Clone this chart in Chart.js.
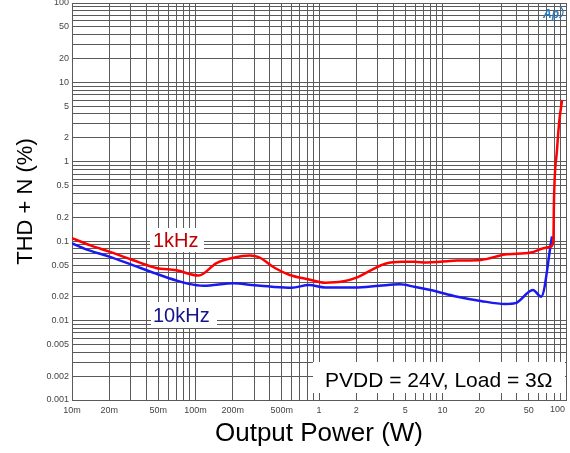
<!DOCTYPE html>
<html><head><meta charset="utf-8">
<script src="https://cdn.jsdelivr.net/npm/chart.js@4/dist/chart.umd.min.js"></script>
<style>html,body{margin:0;padding:0;background:#fff;}#wrap{width:570px;height:453px;position:relative;}</style>
</head><body><div id="wrap"><canvas id="c" width="570" height="453"></canvas></div>
<script>
// ---- tick labels ----
const xTickValues = [0.01, 0.02, 0.05, 0.1, 0.2, 0.5, 1, 2, 5, 10, 20, 50, 100];
const xTickLabels = ['10m', '20m', '50m', '100m', '200m', '500m', '1', '2', '5', '10', '20', '50', '100'];
const yTickValues = [0.001, 0.002, 0.005, 0.01, 0.02, 0.05, 0.1, 0.2, 0.5, 1, 2, 5, 10, 20, 50, 100];
const yTickLabels = ['0.001', '0.002', '0.005', '0.01', '0.02', '0.05', '0.1', '0.2', '0.5', '1', '2', '5', '10', '20', '50', '100'];

// ---- series: 1 kHz ----
const power1k = [0.01, 0.0143, 0.02, 0.031, 0.048, 0.07, 0.106, 0.148, 0.204, 0.275, 0.325, 0.44, 0.58, 0.83, 1.12, 1.54, 2.04, 2.7, 3.44, 4.7, 5.9, 7.5, 9.6, 13.2, 20.4, 32, 52, 67, 76, 79, 80, 84.5, 88.5, 93];
const thd1k   = [0.109, 0.088, 0.074, 0.058, 0.046, 0.043, 0.037, 0.053, 0.062, 0.066, 0.063, 0.046, 0.0375, 0.033, 0.030, 0.031, 0.035, 0.044, 0.052, 0.055, 0.055, 0.054, 0.055, 0.057, 0.058, 0.068, 0.072, 0.082, 0.086, 0.1, 0.35, 1.4, 3.4, 6];

// ---- series: 10 kHz ----
const power10k = [0.01, 0.013, 0.02, 0.031, 0.048, 0.07, 0.088, 0.116, 0.204, 0.285, 0.415, 0.6, 0.83, 1.12, 1.96, 3.07, 4.5, 5.9, 8.0, 13.2, 20.4, 32, 39, 54, 63, 77];
const thd10k   = [0.094, 0.079, 0.064, 0.050, 0.039, 0.032, 0.029, 0.0275, 0.0295, 0.028, 0.0267, 0.026, 0.028, 0.0262, 0.0262, 0.0275, 0.0286, 0.0267, 0.0243, 0.020, 0.0177, 0.0162, 0.0166, 0.0243, 0.020, 0.115];

const seriesNames = ['1kHz', '10kHz'];
const noteText = 'PVDD = 24V, Load = 3\u03A9';
const xTitle = 'Output Power (W)';
const yTitle = 'THD + N (%)';

function gridValues(min, max) {
  const out = [];
  for (let e = Math.round(Math.log10(min)); e < Math.round(Math.log10(max)); e++) {
    for (let m = 1; m < 10; m++) out.push(parseFloat((m * Math.pow(10, e)).toPrecision(6)));
  }
  out.push(max);
  return out;
}
function labelFor(vals, labs, v) {
  for (let i = 0; i < vals.length; i++) if (Math.abs(vals[i] - v) / vals[i] < 1e-6) return labs[i];
  return '';
}
function pts(xs, ys) { return xs.map((x, i) => ({x: x, y: ys[i]})); }

const FONT = '"Liberation Sans", Arial, sans-serif';
const GRID = '#5a5a5a';

const annot = {
  id: 'annot',
  beforeDatasetsDraw(chart) {
    const ctx = chart.ctx;
    ctx.save();
    function box(x, y, w, h) { ctx.fillStyle = '#fff'; ctx.fillRect(x, y, w, h); }
    box(150, 228, 54, 24);
    box(151, 302, 66, 26);
    box(313, 362, 252, 31);
    ctx.textBaseline = 'alphabetic';
    ctx.textAlign = 'left';
    ctx.font = '20px ' + FONT;
    ctx.fillStyle = '#c00000';
    ctx.fillText(seriesNames[0], 153, 247);
    ctx.fillStyle = '#14148c';
    ctx.fillText(seriesNames[1], 153, 322);
    ctx.font = '21px ' + FONT;
    ctx.fillStyle = '#000';
    ctx.fillText(noteText, 325, 387);
    ctx.restore();
  },
  afterDraw(chart) {
    const ctx = chart.ctx;
    const xs = chart.scales.x;
    ctx.save();
    // last x tick label, right-aligned at the plot edge
    ctx.font = '9px ' + FONT;
    ctx.fillStyle = '#444';
    ctx.textAlign = 'right';
    ctx.textBaseline = 'top';
    ctx.fillText(xTickLabels[xTickLabels.length - 1], xs.getPixelForValue(xTickValues[xTickValues.length - 1]) - 1, chart.chartArea.bottom + 5);
    // logo
    ctx.font = 'italic bold 12px ' + FONT;
    ctx.fillStyle = '#2b7bbf';
    ctx.textAlign = 'left';
    ctx.textBaseline = 'alphabetic';
    ctx.fillText('Ap', 543, 18);
    ctx.strokeStyle = '#2b7bbf';
    ctx.lineWidth = 1.2;
    ctx.beginPath();
    ctx.arc(557, 12, 6, -1.2, 1.2);
    ctx.stroke();
    ctx.restore();
  }
};

new Chart(document.getElementById('c'), {
  type: 'line',
  data: {
    datasets: [
      {label: seriesNames[0], data: pts(power1k, thd1k), borderColor: '#ff0000', borderWidth: 2.5, pointRadius: 0, cubicInterpolationMode: 'monotone', fill: false},
      {label: seriesNames[1], data: pts(power10k, thd10k), borderColor: '#1a1aee', borderWidth: 2.5, pointRadius: 0, cubicInterpolationMode: 'monotone', fill: false}
    ]
  },
  options: {
    responsive: false,
    animation: false,
    devicePixelRatio: 1,
    layout: {padding: {left: 0, right: 4, top: 3, bottom: 0}},
    plugins: {legend: {display: false}, tooltip: {enabled: false}},
    scales: {
      x: {
        type: 'logarithmic', min: 0.01, max: 100,
        afterBuildTicks(s) { s.ticks = gridValues(0.01, 100).map(v => ({value: v})); },
        afterFit(s) { s.height = 53; s.paddingLeft = 0; s.paddingRight = 0; },
        grid: {color: GRID, lineWidth: 1, drawTicks: false},
        border: {color: GRID},
        ticks: {
          autoSkip: false, maxRotation: 0, minRotation: 0, padding: 5,
          color: '#444', font: {family: FONT, size: 9},
          callback(v) { return v >= 100 ? '' : labelFor(xTickValues, xTickLabels, v); }
        },
        title: {display: true, text: xTitle, color: '#000', font: {family: FONT, size: 26}, padding: {top: 0, bottom: 4}}
      },
      y: {
        type: 'logarithmic', min: 0.001, max: 100,
        afterBuildTicks(s) { s.ticks = gridValues(0.001, 100).map(v => ({value: v})); },
        afterFit(s) { s.width = 72; s.paddingTop = 0; s.paddingBottom = 0; },
        grid: {color: GRID, lineWidth: 1, drawTicks: false},
        border: {color: GRID},
        ticks: {
          autoSkip: false, padding: 3,
          color: '#444', font: {family: FONT, size: 9},
          callback(v) { return labelFor(yTickValues, yTickLabels, v); }
        },
        title: {display: true, text: yTitle, color: '#000', font: {family: FONT, size: 22}, padding: {top: 13, bottom: 0}}
      }
    }
  },
  plugins: [annot]
});
</script>
</body></html>
